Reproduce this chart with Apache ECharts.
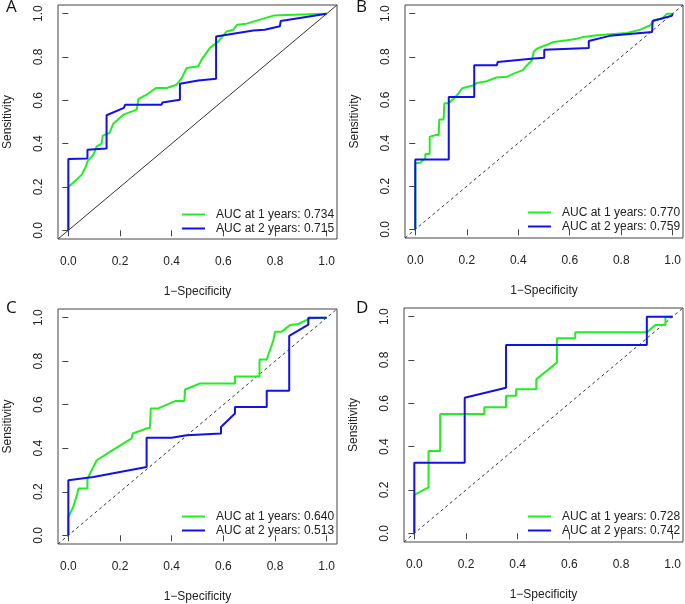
<!DOCTYPE html>
<html>
<head>
<meta charset="utf-8">
<script src="https://cdn.jsdelivr.net/npm/echarts@6/dist/echarts.min.js"></script>
<style>
  body { margin: 0; background: #fff; }
  #chart { width: 685px; height: 604px; }
</style>
</head>
<body>
<div id="chart"></div>
<script>
// tick values shared by every panel
var ticks = [0, 0.2, 0.4, 0.6, 0.8, 1.0];
var panelLetters = ['A', 'B', 'C', 'D'];

// legend labels per panel
var aucLabelsA = ['AUC at 1 years: 0.734', 'AUC at 2 years: 0.715'];
var aucLabelsB = ['AUC at 1 years: 0.770', 'AUC at 2 years: 0.759'];
var aucLabelsC = ['AUC at 1 years: 0.640', 'AUC at 2 years: 0.513'];
var aucLabelsD = ['AUC at 1 years: 0.728', 'AUC at 2 years: 0.742'];

// ROC curves: [1-specificity, sensitivity]
var rocA1 = [[0,0],[0,0.2],[0.032,0.234],[0.052,0.257],[0.068,0.295],[0.074,0.318],[0.097,0.349],[0.11,0.388],
  [0.129,0.40],[0.133,0.437],[0.159,0.449],[0.174,0.492],[0.213,0.534],[0.265,0.557],[0.271,0.606],[0.303,0.626],
  [0.339,0.657],[0.381,0.657],[0.419,0.672],[0.439,0.703],[0.458,0.749],[0.503,0.757],[0.516,0.788],[0.548,0.842],
  [0.581,0.872],[0.613,0.918],[0.639,0.926],[0.654,0.949],[0.69,0.954],[0.794,0.991],[0.871,0.995],[1,1]];
var rocA2 = [[0,0],[0,0.329],[0.074,0.332],[0.074,0.372],[0.148,0.378],[0.148,0.531],[0.215,0.565],[0.22,0.58],
  [0.361,0.58],[0.364,0.59],[0.432,0.603],[0.432,0.677],[0.503,0.692],[0.572,0.70],[0.572,0.895],[0.716,0.922],
  [0.76,0.926],[0.819,0.942],[0.822,0.966],[1,1]];

var rocB1 = [[0,0],[0,0.306],[0.019,0.309],[0.039,0.329],[0.039,0.349],[0.056,0.349],[0.056,0.429],[0.078,0.437],
  [0.091,0.437],[0.093,0.509],[0.11,0.509],[0.113,0.583],[0.13,0.586],[0.149,0.606],[0.168,0.63],[0.181,0.653],
  [0.2,0.66],[0.227,0.668],[0.24,0.679],[0.278,0.687],[0.315,0.704],[0.356,0.707],[0.382,0.722],[0.418,0.738],
  [0.434,0.761],[0.453,0.784],[0.46,0.823],[0.473,0.838],[0.499,0.85],[0.538,0.869],[0.589,0.877],[0.628,0.884],
  [0.654,0.892],[0.706,0.90],[0.784,0.907],[0.823,0.91],[0.874,0.926],[0.913,0.946],[0.926,0.969],[0.959,0.977],
  [0.978,1],[1,1]];
var rocB2 = [[0,0],[0,0.324],[0.13,0.324],[0.13,0.614],[0.229,0.614],[0.229,0.761],[0.317,0.761],[0.32,0.776],
  [0.46,0.792],[0.501,0.796],[0.501,0.833],[0.674,0.841],[0.674,0.873],[0.755,0.897],[0.92,0.915],[0.922,0.966],
  [0.997,0.99],[1,1]];

var rocC1 = [[0,0],[0,0.084],[0.019,0.13],[0.035,0.192],[0.039,0.215],[0.074,0.215],[0.074,0.26],[0.11,0.345],
  [0.161,0.383],[0.245,0.445],[0.249,0.468],[0.303,0.491],[0.316,0.494],[0.319,0.583],[0.348,0.583],[0.413,0.617],
  [0.449,0.617],[0.452,0.67],[0.51,0.698],[0.645,0.698],[0.645,0.73],[0.74,0.73],[0.74,0.808],[0.768,0.808],
  [0.794,0.897],[0.80,0.936],[0.826,0.936],[0.858,0.966],[0.89,0.971],[0.935,0.997],[1,1]];
var rocC2 = [[0,0],[0,0.253],[0.097,0.268],[0.303,0.314],[0.303,0.448],[0.40,0.448],[0.458,0.46],[0.591,0.468],
  [0.591,0.498],[0.645,0.56],[0.645,0.59],[0.768,0.59],[0.768,0.664],[0.855,0.664],[0.855,0.916],[0.929,0.968],
  [0.929,1],[1,1]];

var rocD1 = [[0,0],[0,0.177],[0.055,0.212],[0.055,0.38],[0.10,0.38],[0.10,0.551],[0.271,0.551],[0.271,0.582],
  [0.355,0.582],[0.355,0.635],[0.394,0.635],[0.394,0.665],[0.472,0.665],[0.472,0.711],[0.552,0.788],[0.552,0.90],
  [0.623,0.90],[0.623,0.928],[0.90,0.928],[0.933,0.962],[0.972,0.962],[0.972,1],[1,1]];
var rocD2 = [[0,0],[0,0.326],[0.195,0.326],[0.195,0.626],[0.355,0.672],[0.355,0.869],[0.90,0.869],[0.90,1],[1,1]];

var diagonal = [[-0.04,-0.04],[1.04,1.04]];

var panels = [
  {curves: [rocA1, rocA2], labels: aucLabelsA, box: {left: 58, top: 5, width: 279, height: 234}, legend: {left: 177, top: 203}, dashed: false},
  {curves: [rocB1, rocB2], labels: aucLabelsB, box: {left: 405, top: 5, width: 278, height: 233}, legend: {left: 523, top: 201}, dashed: true},
  {curves: [rocC1, rocC2], labels: aucLabelsC, box: {left: 58, top: 309, width: 279, height: 235}, legend: {left: 177, top: 505}, dashed: true},
  {curves: [rocD1, rocD2], labels: aucLabelsD, box: {left: 404, top: 308, width: 279, height: 234}, legend: {left: 523, top: 505}, dashed: true}
];
var letterPos = [[6, -1], [356, -1], [6, 300], [356, 300]];

var lineColors = ['#22ee22', '#1111ee'];
var textColor = '#222';
var fontMain = 'Liberation Sans, Arial, sans-serif';

var grids = [], xAxes = [], yAxes = [], series = [], legends = [], titles = [];

panels.forEach(function (p, i) {
    grids.push({
        left: p.box.left, top: p.box.top, width: p.box.width, height: p.box.height,
        show: true, borderColor: '#444', borderWidth: 1, backgroundColor: 'transparent'
    });
    xAxes.push({
        gridIndex: i, type: 'value', min: -0.04, max: 1.04,
        name: '1\u2212Specificity', nameLocation: 'middle', nameGap: 47,
        nameTextStyle: {fontSize: 12, color: textColor, fontFamily: fontMain},
        axisLine: {show: false},
        axisTick: {show: true, length: 6, customValues: ticks, lineStyle: {color: '#444'}},
        axisLabel: {customValues: ticks, margin: 17, fontSize: 12, color: textColor, fontFamily: fontMain,
            formatter: function (v) { return v.toFixed(1); }},
        splitLine: {show: false}
    });
    yAxes.push({
        gridIndex: i, type: 'value', min: -0.04, max: 1.04,
        name: 'Sensitivity', nameLocation: 'middle', nameGap: 44,
        nameTextStyle: {fontSize: 12, color: textColor, fontFamily: fontMain},
        axisLine: {show: false},
        axisTick: {show: true, length: 6, customValues: ticks, lineStyle: {color: '#444'}},
        axisLabel: {customValues: ticks, margin: 13, rotate: 90, fontSize: 12, color: textColor, fontFamily: fontMain,
            formatter: function (v) { return v.toFixed(1); }},
        splitLine: {show: false}
    });
    series.push({
        type: 'line', xAxisIndex: i, yAxisIndex: i, data: diagonal, showSymbol: false, silent: true,
        lineStyle: {color: '#333', width: 1, type: p.dashed ? [3, 3] : 'solid'}, z: 1
    });
    p.curves.forEach(function (c, k) {
        series.push({
            name: p.labels[k], type: 'line', xAxisIndex: i, yAxisIndex: i, data: c,
            showSymbol: false, symbol: 'none', animation: false,
            lineStyle: {color: lineColors[k], width: 2}, itemStyle: {color: lineColors[k]}, z: 2 + k
        });
    });
    legends.push({
        orient: 'vertical', left: p.legend.left, top: p.legend.top, data: p.labels,
        icon: 'rect', itemWidth: 23, itemHeight: 2, itemGap: 1, selectedMode: false,
        textStyle: {fontSize: 12, color: textColor, fontFamily: fontMain, padding: [0, 0, 0, 6], lineHeight: 13}
    });
    titles.push({
        text: panelLetters[i], left: letterPos[i][0], top: letterPos[i][1], padding: 0,
        textStyle: {fontSize: 17, fontWeight: 'normal', color: '#111', fontFamily: 'Open Sans, sans-serif'}
    });
});

var chart = echarts.init(document.getElementById('chart'), null, {renderer: 'canvas'});
chart.setOption({
    backgroundColor: '#fff',
    animation: false,
    title: titles,
    grid: grids,
    xAxis: xAxes,
    yAxis: yAxes,
    legend: legends,
    series: series
});
</script>
</body>
</html>
